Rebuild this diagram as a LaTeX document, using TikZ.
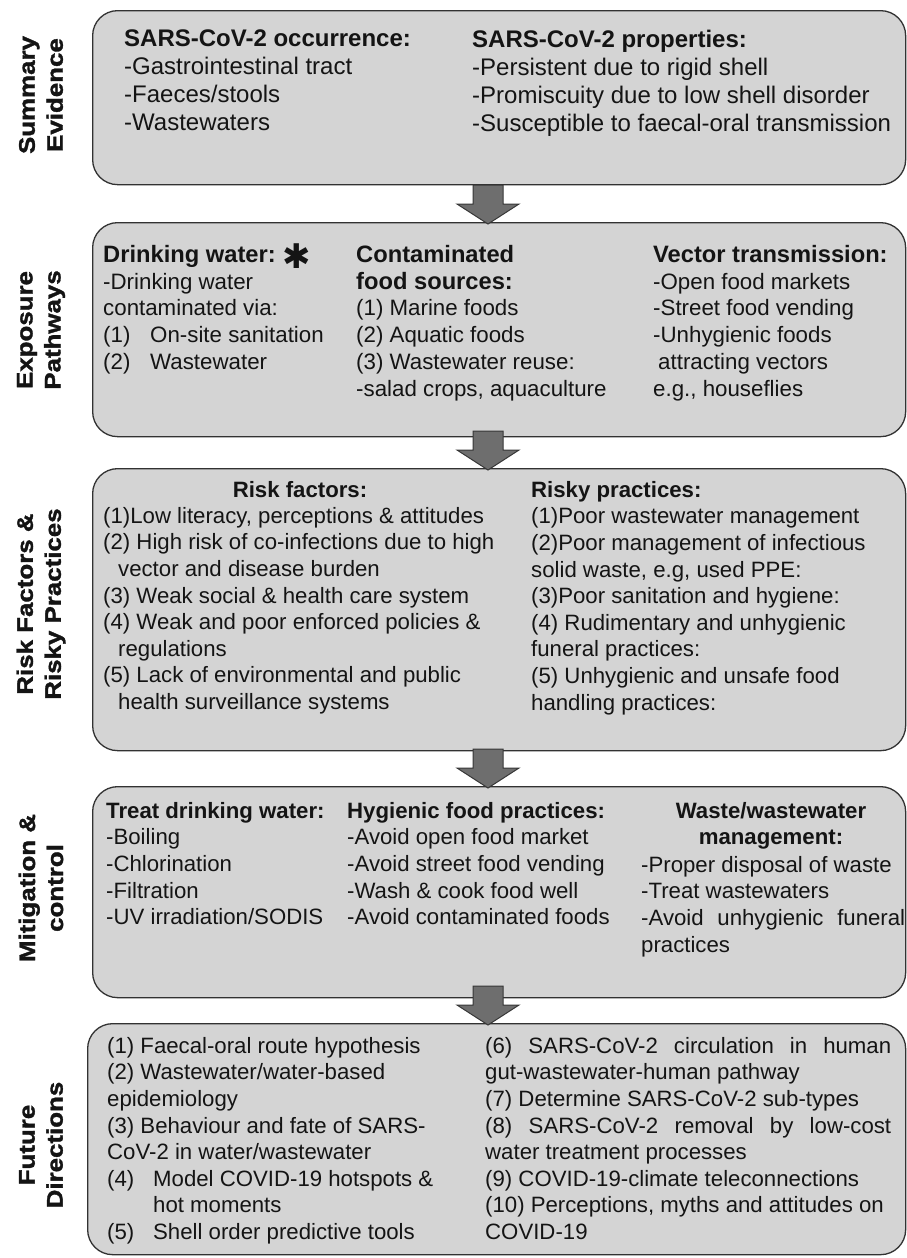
\documentclass[tikz,border=0pt]{standalone}
\usepackage{fontspec}
\setmainfont{Liberation Sans}
\newfontfamily\sidefont{Liberation Sans}[FakeStretch=1.15,BoldFeatures={FakeBold=1.5}]
\newfontfamily\symfont{DejaVu Sans}
\usetikzlibrary{calc}
\definecolor{boxfill}{RGB}{212,212,212}
\definecolor{boxline}{RGB}{50,50,50}
\definecolor{arrowfill}{RGB}{110,110,110}
\definecolor{arrowline}{RGB}{55,55,55}
\definecolor{txtcol}{RGB}{20,20,20}
\newcommand\szA{\fontsize{24}{28}\selectfont}
\newcommand\szB{\fontsize{22.3}{26.8}\selectfont}
\newcommand\szH{\fontsize{23.7}{26.8}\selectfont\bfseries}
\newcommand\szC{\fontsize{22.2}{26.6}\selectfont}
\newcommand\szCb{\fontsize{22.2}{26.6}\selectfont\bfseries}
\begin{document}
\begin{tikzpicture}[x=1pt,y=-1pt,
  box/.style={draw=boxline, fill=boxfill, line width=1.3pt, rounded corners=25pt, inner sep=0pt, anchor=north west},
  txt/.style={anchor=north west, inner sep=0pt, align=left, text=txtcol},
  ctxt/.style={anchor=north, inner sep=0pt, align=center, text=txtcol},
  side/.style={rotate=90, inner sep=0pt, align=center, text=txtcol, font=\sidefont\bfseries\fontsize{22.5}{28}\selectfont},
  barrow/.style={fill=arrowfill, draw=arrowline, line width=1pt, line join=miter}]
\useasboundingbox (0,0) rectangle (907,1258);
\fill[white] (0,0) rectangle (907,1258);

% boxes
\node[box, minimum width=813pt, minimum height=174pt] (b1) at (92,10) {};
\node[box, minimum width=813pt, minimum height=214pt] (b2) at (92,222) {};
\node[box, minimum width=813pt, minimum height=282pt] (b3) at (92,468) {};
\node[box, minimum width=813pt, minimum height=211pt] (b4) at (92,786) {};
\node[box, minimum width=818pt, minimum height=231pt] (b5) at (87,1023) {};

% block arrows
\coordinate (ax) at (488,0);
\foreach \src/\dst in {b1/b2,b2/b3,b3/b4,b4/b5}{
  \draw[barrow] ($(\dst.north -| ax)+(0,2)$) -- ++(31,-20) -- ++(-16,0) -- ++(0,-19)
     -- ++(-30,0) -- ++(0,19) -- ++(-16,0) -- cycle;
}

% side labels
\node[side] (s1) at (41,95) {Summary\\Evidence};
\node[side] (s2) at (41,330) {Exposure\\Pathways};
\node[side] (s3) at (41,604) {Risk Factors \&\\Risky Practices};
\node[side] (s4) at (41,888) {Mitigation \&\\control};
\node[side] (s5) at (41,1145) {Future\\Directions};

% box 1
\node[txt, font=\szA] (t11) at (124,29.7) {\textbf{SARS-CoV-2 occurrence:}\\-Gastrointestinal tract\\-Faeces/stools\\-Wastewaters};
\node[txt, font=\szA] (t12) at (472,29.7) {\textbf{SARS-CoV-2 properties:}\\-Persistent due to rigid shell\\-Promiscuity due to low shell disorder\\-Susceptible to faecal-oral transmission};

% box 2
\node[txt, font=\szB] (t21) at (103,245) {{\szH Drinking water:}\\-Drinking water\\contaminated via:\\\makebox[47pt][l]{(1)}On-site sanitation\\\makebox[47pt][l]{(2)}Wastewater};
\node[inner sep=0pt, text=txtcol, font=\symfont\fontsize{34}{34}\selectfont] (ast) at (297,256) {✱};
\node[txt, font=\szB] (t22) at (356,245) {{\szH Contaminated}\\{\szH food sources:}\\(1) Marine foods\\(2) Aquatic foods\\(3) Wastewater reuse:\\-salad crops, aquaculture};
\node[txt, font=\szB] (t23) at (653,245) {{\szH Vector transmission:}\\-Open food markets\\-Street food vending\\-Unhygienic foods\\\hspace*{5pt}attracting vectors\\e.g., houseflies};

% box 3
\node[ctxt, font=\szCb] (h31) at (300,481) {Risk factors:};
\node[txt, font=\szC] (t31) at (103,507) {(1)Low literacy, perceptions \& attitudes\\(2) High risk of co-infections due to high\\\hspace*{15pt}vector and disease burden\\(3) Weak social \& health care system\\(4) Weak and poor enforced policies \&\\\hspace*{15pt}regulations\\(5) Lack of environmental and public\\\hspace*{15pt}health surveillance systems};
\node[txt, font=\szC] (t32) at (531,481) {\textbf{Risky practices:}\\(1)Poor wastewater management\\(2)Poor management of infectious\\solid waste, e.g, used PPE:\\(3)Poor sanitation and hygiene:\\(4) Rudimentary and unhygienic\\funeral practices:\\(5) Unhygienic and unsafe food\\handling practices:};

% box 4
\node[txt, font=\szC] (t41) at (106,802) {\textbf{Treat drinking water:}\\-Boiling\\-Chlorination\\-Filtration\\-UV irradiation/SODIS};
\node[txt, font=\szC] (t42) at (347,802) {\textbf{Hygienic food practices:}\\-Avoid open food market\\-Avoid street food vending\\-Wash \& cook food well\\-Avoid contaminated foods};
\node[ctxt, font=\szCb] (h43) at (771,802) {Waste/wastewater\\management:};
\node[txt, font=\szC] (t43) at (641,856) {-Proper disposal of waste\\-Treat wastewaters\\\makebox[264pt][s]{-Avoid unhygienic funeral}\\practices};

% box 5
\node[txt, font=\szC] (t51) at (107,1037) {(1) Faecal-oral route hypothesis\\(2) Wastewater/water-based\\epidemiology\\(3) Behaviour and fate of SARS-\\CoV-2 in water/wastewater\\\makebox[46pt][l]{(4)}Model COVID-19 hotspots \&\\\hspace*{46pt}hot moments\\\makebox[46pt][l]{(5)}Shell order predictive tools};
\node[txt, font=\szC] (t52) at (485,1037) {\makebox[406pt][s]{(6) SARS-CoV-2 circulation in human}\\gut-wastewater-human pathway\\(7) Determine SARS-CoV-2 sub-types\\\makebox[406pt][s]{(8) SARS-CoV-2 removal by low-cost}\\water treatment processes\\(9) COVID-19-climate teleconnections\\(10) Perceptions, myths and attitudes on\\COVID-19};
\end{tikzpicture}
\end{document}
